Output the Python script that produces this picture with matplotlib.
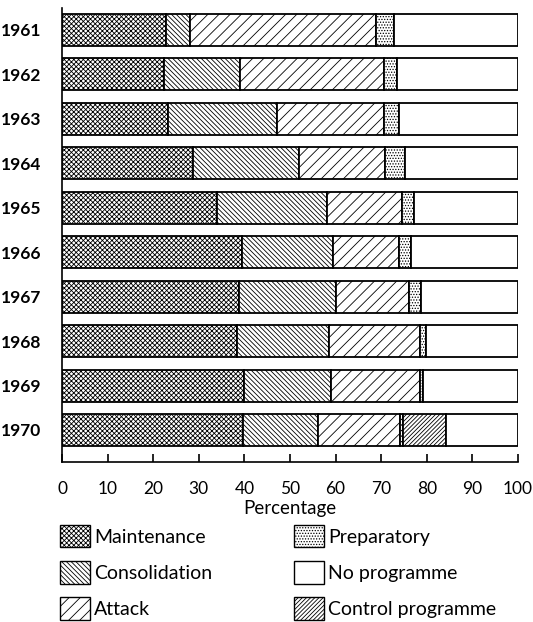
import numpy as np
import matplotlib.pyplot as plt
from matplotlib.patches import Patch

plt.rcParams['font.family'] = ['Lato', 'DejaVu Sans']
plt.rcParams['hatch.linewidth'] = 0.6

years = ['1961', '1962', '1963', '1964', '1965', '1966', '1967', '1968', '1969', '1970']
maintenance = [22.8, 22.4, 23.3, 28.7, 33.9, 39.5, 38.9, 38.3, 40.0, 39.8]
consolidation = [5.2, 16.7, 23.8, 23.3, 24.3, 19.9, 21.2, 20.2, 18.9, 16.3]
attack = [40.8, 31.6, 23.6, 18.9, 16.3, 14.6, 16.1, 20.1, 19.5, 18.0]
preparatory = [4.1, 2.7, 3.3, 4.4, 2.6, 2.6, 2.6, 1.2, 0.8, 0.7]
control = [0, 0, 0, 0, 0, 0, 0, 0, 0, 9.5]

hatch_maint = 'xxxxxxx'
hatch_cons = '\\\\\\\\\\\\\\'
hatch_att = '///'
hatch_prep = '......'
hatch_ctrl = '////////'

series = [
    ('Maintenance', maintenance, hatch_maint),
    ('Consolidation', consolidation, hatch_cons),
    ('Attack', attack, hatch_att),
    ('Preparatory', preparatory, hatch_prep),
    ('Control programme', control, hatch_ctrl),
]

fig = plt.figure(figsize=(5.33, 6.22), dpi=100)
ax = fig.add_axes([62/533, 1-462/622, 456/533, 454/622])

y = np.arange(len(years))
left = np.zeros(len(years))
for name, vals, hatch in series:
    vals = np.array(vals)
    ax.barh(y, vals, left=left, height=0.72, color='white', edgecolor='black',
            hatch=hatch, linewidth=1.3)
    left = left + vals
# no programme = remainder
ax.barh(y, 100 - left, left=left, height=0.72, color='white', edgecolor='black', linewidth=1.3)

ax.set_xlim(0, 100)
ax.set_ylim(9.72, -0.49)
ax.set_yticks(y)
ax.set_yticklabels(years, fontsize=12.5, fontweight='bold')
ax.tick_params(axis='y', length=0, pad=15)
ax.set_xticks(range(0, 101, 10))
ax.tick_params(axis='x', direction='in', length=6, width=1.2, labelsize=12.5, pad=14)
ax.spines['top'].set_visible(False)
ax.spines['right'].set_visible(False)
ax.spines['left'].set_linewidth(1.2)
ax.spines['bottom'].set_linewidth(1.2)
ax.set_xlabel('Percentage', fontsize=13.5, labelpad=2)

handles = [
    Patch(facecolor='white', edgecolor='black', hatch=hatch_maint, label='Maintenance'),
    Patch(facecolor='white', edgecolor='black', hatch=hatch_cons, label='Consolidation'),
    Patch(facecolor='white', edgecolor='black', hatch=hatch_att, label='Attack'),
    Patch(facecolor='white', edgecolor='black', hatch=hatch_prep, label='Preparatory'),
    Patch(facecolor='white', edgecolor='black', label='No programme'),
    Patch(facecolor='white', edgecolor='black', hatch=hatch_ctrl, label='Control programme'),
]
fig.legend(handles=handles, ncol=2, loc='upper left', bbox_to_anchor=(60/533, 1-525/622),
           frameon=False, fontsize=14, handlelength=1.55, handleheight=1.4,
           handletextpad=0.2, columnspacing=4.2, labelspacing=0.7, borderaxespad=0,
           borderpad=0)

fig.savefig('out.png', dpi=100)
